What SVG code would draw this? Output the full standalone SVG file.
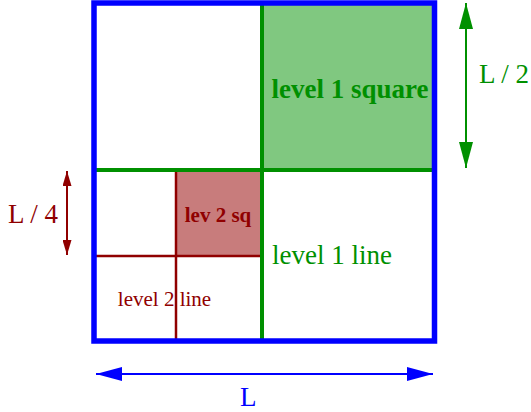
<svg xmlns="http://www.w3.org/2000/svg" width="531" height="412" viewBox="0 0 531 412">
<style>
text{font-family:"Liberation Serif","Times New Roman",serif}
.g{fill:#009000}.r{fill:#900000}.b{fill:#0000ff}
.big{font-size:27px}.small{font-size:21px}.bold{font-weight:bold}
</style>
<defs>
<marker id="ag" viewBox="0 0 26 14" refX="26" refY="7" markerWidth="26" markerHeight="14" markerUnits="userSpaceOnUse" orient="auto-start-reverse"><path d="M0,0 L26,7 L0,14 Z" fill="#009000"/></marker>
<marker id="ab" viewBox="0 0 26 14" refX="26" refY="7" markerWidth="26" markerHeight="14" markerUnits="userSpaceOnUse" orient="auto-start-reverse"><path d="M0,0 L26,7 L0,14 Z" fill="#0000ff"/></marker>
<marker id="ar" viewBox="0 0 15 9" refX="15" refY="4.5" markerWidth="15" markerHeight="9" markerUnits="userSpaceOnUse" orient="auto-start-reverse"><path d="M0,0 L15,4.5 L0,9 Z" fill="#900000"/></marker>
</defs>
<g id="level1-square">
<rect x="262" y="3" width="172" height="167" fill="#80c880"/>
<text class="g big bold" x="350" y="98" text-anchor="middle">level 1 square</text>
</g>
<g id="level2-square">
<rect x="176" y="170" width="86" height="86" fill="#c87c7c"/>
<text class="r small bold" x="218" y="222" text-anchor="middle">lev 2 sq</text>
</g>
<g id="level2-lines" stroke="#900000" stroke-width="2.5" fill="none">
<line x1="94" y1="256" x2="262" y2="256"/>
<line x1="176" y1="170" x2="176" y2="341"/>
</g>
<g id="level2-line-label"><text class="r small" x="164.5" y="306" text-anchor="middle">level 2 line</text></g>
<g id="level1-lines" stroke="#009000" stroke-width="4" fill="none">
<line x1="94" y1="170" x2="434" y2="170"/>
<line x1="262" y1="3" x2="262" y2="341"/>
</g>
<g id="level1-line-label"><text class="g big" x="272" y="264">level 1 line</text></g>
<g id="outer-square"><rect x="94" y="3" width="340.5" height="338" fill="none" stroke="#0000ff" stroke-width="5.5"/></g>
<g id="connectors">
<line x1="466" y1="3" x2="466" y2="168" stroke="#009000" stroke-width="2" marker-start="url(#ag)" marker-end="url(#ag)"/>
<line x1="67" y1="171" x2="67" y2="255" stroke="#900000" stroke-width="2" marker-start="url(#ar)" marker-end="url(#ar)"/>
<line x1="96" y1="374" x2="433" y2="374" stroke="#0000ff" stroke-width="2" marker-start="url(#ab)" marker-end="url(#ab)"/>
</g>
<g id="labels">
<text class="g big" x="479" y="83">L / 2</text>
<text class="r big" x="8" y="223">L / 4</text>
<text class="b big" x="240" y="406">L</text>
</g>
</svg>
